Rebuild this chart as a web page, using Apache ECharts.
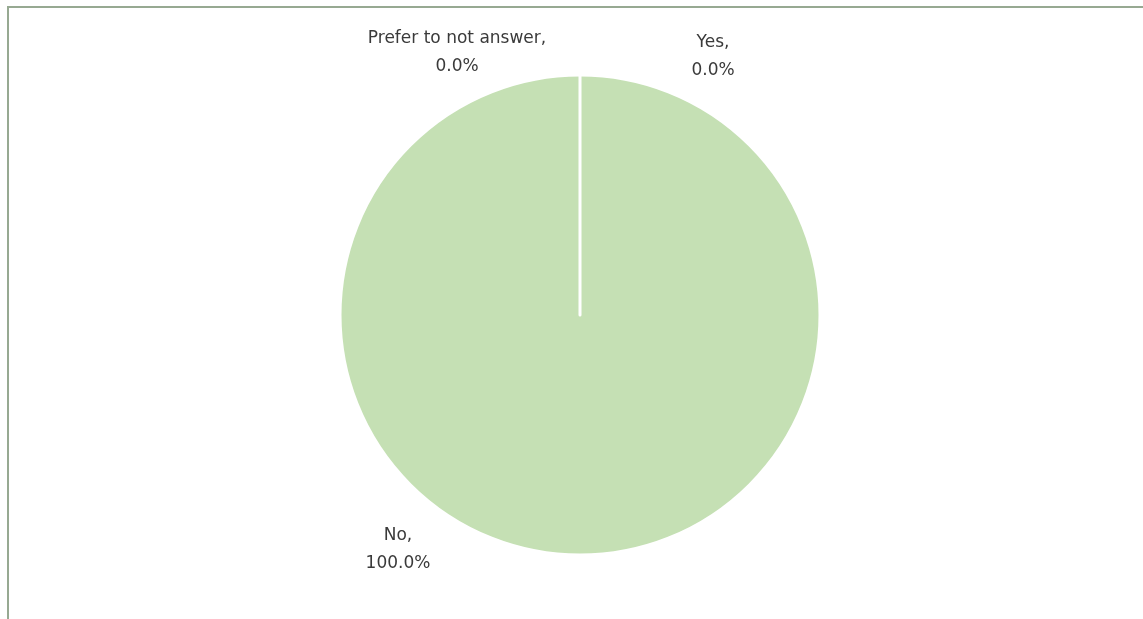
<!DOCTYPE html>
<html>
<head>
<meta charset="utf-8">
<script src="https://cdn.jsdelivr.net/npm/echarts@6/dist/echarts.min.js"></script>
<style>
html,body{margin:0;padding:0;background:#fff;}
#frame{position:absolute;left:7px;top:6px;width:1200px;height:700px;border:2px solid #97a992;box-sizing:border-box;}
#chart{position:absolute;left:0;top:0;width:1143px;height:619px;}
</style>
</head>
<body>
<div id="frame"></div>
<div id="chart"></div>
<script>
var categories = ['Yes', 'No', 'Prefer to not answer'];
var values = [0, 100, 0];

// label placement relative to the pie centre (style, not data)
var labelOffsets = [[133, -258], [-182, 235], [-123, -262]];
var pieCenter = [580, 315];
var pieRadius = 240;

var chart = echarts.init(document.getElementById('chart'), null, {renderer: 'canvas'});
chart.setOption({
  animation: false,
  series: [{
    type: 'pie',
    center: pieCenter,
    radius: [0, pieRadius],
    startAngle: 90,
    clockwise: true,
    avoidLabelOverlap: false,
    data: categories.map(function (c, i) { return {name: c, value: values[i]}; }),
    itemStyle: {color: '#C5E0B4', borderColor: '#ffffff', borderWidth: 3},
    label: {
      show: true,
      position: 'outside',
      fontFamily: 'DejaVu Sans',
      fontSize: 17,
      color: '#3a3a3a',
      lineHeight: 28,
      align: 'center',
      formatter: function (p) { return p.name + ',\n' + p.percent.toFixed(1) + '%'; }
    },
    labelLayout: function (params) {
      var o = labelOffsets[params.dataIndex];
      return {
        x: pieCenter[0] + o[0],
        y: pieCenter[1] + o[1],
        align: 'center',
        verticalAlign: 'middle'
      };
    },
    labelLine: {show: false},
    emphasis: {disabled: true}
  }]
});
</script>
</body>
</html>
